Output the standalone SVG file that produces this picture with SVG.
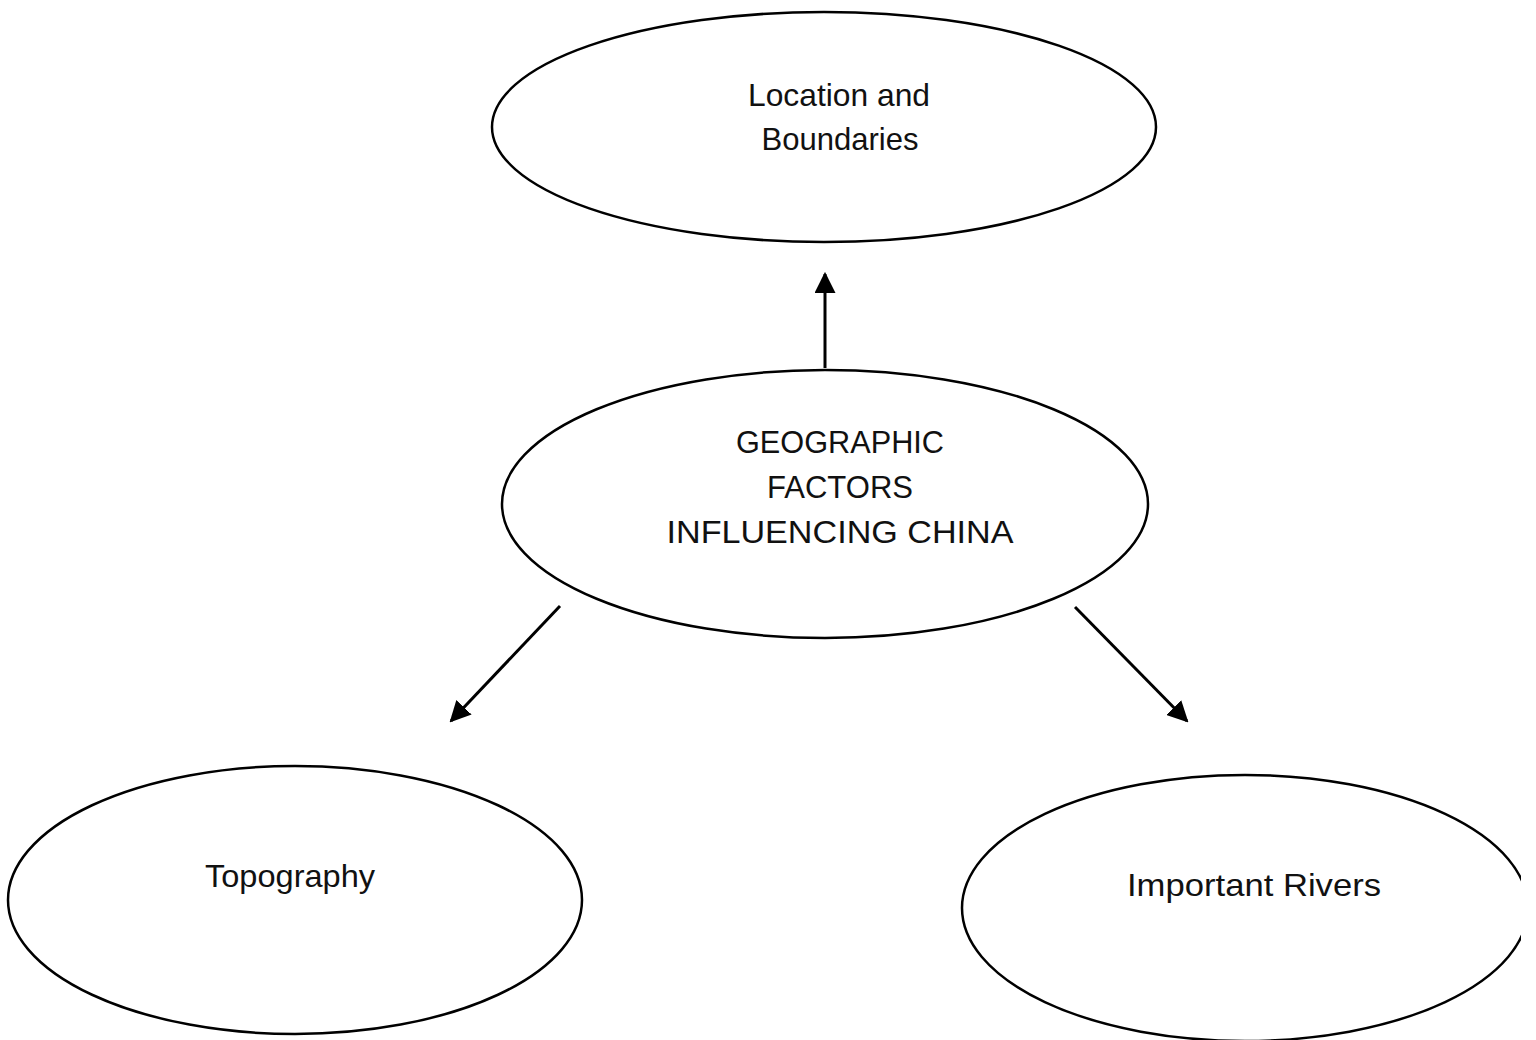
<svg xmlns="http://www.w3.org/2000/svg" width="1536" height="1040" viewBox="0 0 1536 1040">
  <style>
    .node { fill: #ffffff; stroke: #000000; stroke-width: 2.5; }
    .lbl { font-family: "Liberation Sans", "DejaVu Sans", sans-serif; font-size: 32px; fill: #111111; text-anchor: middle; }
    .conn { stroke: #000000; stroke-width: 3; fill: none; }
  </style>
  <defs>
    <marker id="arrow" viewBox="0 0 10 10" refX="9" refY="5" markerWidth="7" markerHeight="7" markerUnits="strokeWidth" orient="auto">
      <path d="M0,0 L10,5 L0,10 Z" fill="#000000"/>
    </marker>
    <clipPath id="page"><rect x="0" y="0" width="1521" height="1040"/></clipPath>
  </defs>
  <rect width="1536" height="1040" fill="#ffffff"/>

  <g id="node-location">
    <ellipse class="node" cx="824" cy="127" rx="332" ry="115"/>
    <text class="lbl" x="839" y="106" textLength="182" lengthAdjust="spacingAndGlyphs">Location and</text>
    <text class="lbl" x="840" y="150" textLength="157" lengthAdjust="spacingAndGlyphs">Boundaries</text>
  </g>

  <g id="node-center">
    <ellipse class="node" cx="825" cy="504" rx="323" ry="134"/>
    <text class="lbl" x="840" y="453" textLength="208" lengthAdjust="spacingAndGlyphs">GEOGRAPHIC</text>
    <text class="lbl" x="840" y="498" textLength="146" lengthAdjust="spacingAndGlyphs">FACTORS</text>
    <text class="lbl" x="840" y="543" textLength="347" lengthAdjust="spacingAndGlyphs">INFLUENCING CHINA</text>
  </g>

  <g id="node-topography">
    <ellipse class="node" cx="295" cy="900" rx="287" ry="134"/>
    <text class="lbl" x="290" y="887" textLength="170" lengthAdjust="spacingAndGlyphs">Topography</text>
  </g>

  <g id="node-rivers">
    <ellipse class="node" cx="1245" cy="908" rx="283" ry="133" clip-path="url(#page)"/>
    <text class="lbl" x="1254" y="896" textLength="254" lengthAdjust="spacingAndGlyphs">Important Rivers</text>
  </g>

  <g id="connectors">
    <line class="conn" x1="825" y1="368" x2="825" y2="274" marker-end="url(#arrow)"/>
    <line class="conn" x1="560" y1="606" x2="451" y2="721" marker-end="url(#arrow)"/>
    <line class="conn" x1="1075" y1="607" x2="1187" y2="721" marker-end="url(#arrow)"/>
  </g>
</svg>
